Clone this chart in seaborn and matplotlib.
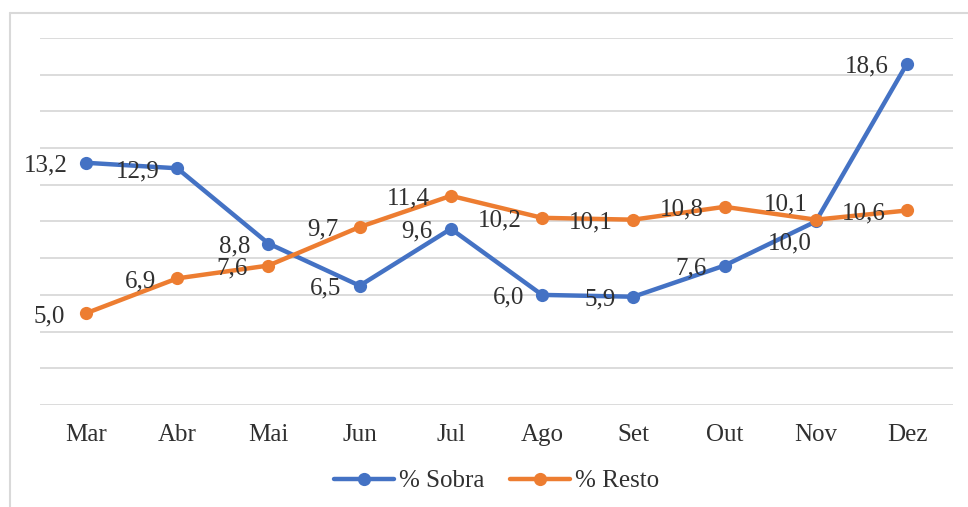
import matplotlib
matplotlib.use('Agg')
import matplotlib.pyplot as plt
import seaborn as sns
import pandas as pd
from matplotlib.lines import Line2D

meses = ['Mar', 'Abr', 'Mai', 'Jun', 'Jul', 'Ago', 'Set', 'Out', 'Nov', 'Dez']
sobra = [13.2, 12.9, 8.8, 6.5, 9.6, 6.0, 5.9, 7.6, 10.0, 18.6]
resto = [5.0, 6.9, 7.6, 9.7, 11.4, 10.2, 10.1, 10.8, 10.1, 10.6]
series = ['% Sobra', '% Resto']
cores = ['#4472C4', '#ED7D31']

sns.set_theme(style='white')
plt.rcParams['font.family'] = ['Liberation Serif', 'DejaVu Serif']

df = pd.DataFrame({
    'Mês': meses * 2,
    'Valor': sobra + resto,
    'Série': [series[0]] * len(meses) + [series[1]] * len(meses),
})

W, H = 968, 507
fig = plt.figure(figsize=(W / 100, H / 100), dpi=100)
left, right, bottom, top = 40.4 / W, 952.6 / W, 1 - 405 / H, 1 - 38 / H
ax = fig.add_axes([left, bottom, right - left, top - bottom])

sns.lineplot(data=df, x='Mês', y='Valor', hue='Série', palette=cores,
             marker='o', markersize=9.5, markeredgewidth=0, linewidth=3.2,
             sort=False, ax=ax, zorder=3)

ax.set_xlim(-0.5, len(meses) - 0.5)
ax.set_ylim(0, 20)
ax.set_yticks(range(0, 21, 2))
ax.set_yticklabels([])
ax.yaxis.grid(True, color='#D9D9D9', linewidth=1.3)
ax.xaxis.grid(False)
for s in ax.spines.values():
    s.set_visible(False)
ax.tick_params(axis='both', length=0)
ax.tick_params(axis='x', pad=14, labelsize=18, labelcolor='#303030')
ax.set_xlabel('')
ax.set_ylabel('')

txt = dict(fontsize=18, color='#303030', ha='right', va='center',
           textcoords='offset points', zorder=4)
def fmt(v):
    return f'{v:.1f}'.replace('.', ',')

for i, (m, v) in enumerate(zip(meses, sobra)):
    off = (-13, -2)
    if m == 'Nov':
        off = (-3, -16)
    ax.annotate(fmt(v), (i, v), xytext=off, **txt)
for i, (m, v) in enumerate(zip(meses, resto)):
    off = (-15, -2)
    if m == 'Nov':
        off = (-6, 11)
    ax.annotate(fmt(v), (i, v), xytext=off, **txt)

handles, labels = ax.get_legend_handles_labels()
ax.legend_.remove()
fig.legend(handles, labels, loc='center', bbox_to_anchor=(0.513, 1 - 481 / H),
           ncol=2, frameon=False, fontsize=18, handlelength=2.4,
           handletextpad=0.2, columnspacing=1.0, labelcolor='#303030')

fig.add_artist(Line2D([10 / W, 10 / W], [0, 1 - 13 / H], transform=fig.transFigure,
                      color='#D9D9D9', linewidth=1.5))
fig.add_artist(Line2D([10 / W, 1], [1 - 13 / H, 1 - 13 / H], transform=fig.transFigure,
                      color='#D9D9D9', linewidth=1.5))

fig.savefig('out.png', dpi=100, facecolor='white')
